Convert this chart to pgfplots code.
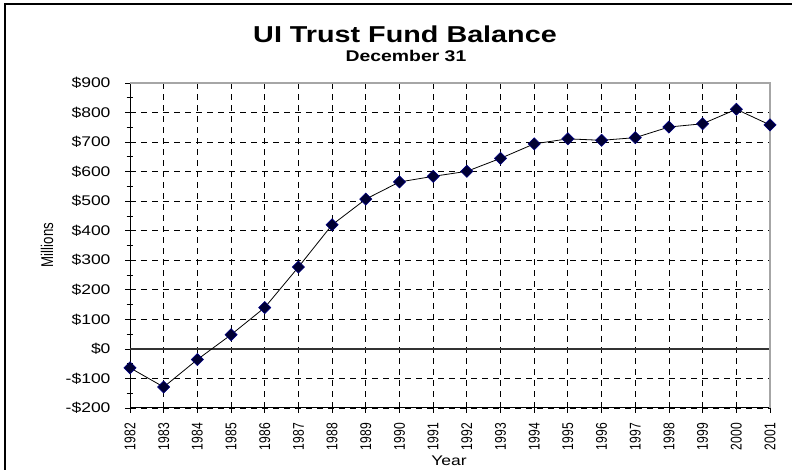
\documentclass[border=0pt]{standalone}
\usepackage{fontspec}
\setmainfont{Liberation Sans}[FakeStretch=1.25]
\newfontfamily\rotfont{Liberation Sans}[FakeStretch=0.78]
\usepackage{pgfplots}
\pgfplotsset{compat=1.18}
\definecolor{mk}{HTML}{000033}
\definecolor{mkedge}{HTML}{000080}
\begin{document}
\begin{tikzpicture}[x=1pt,y=1pt]
\useasboundingbox (0,0) rectangle (792,470);
\draw[line width=1.5pt] (5,-5) -- (5,466) -- (800,466);
\node[anchor=base, font=\fontsize{23}{26}\selectfont\bfseries] at (405,427.7) {UI Trust Fund Balance};
\node[anchor=base, font=\fontsize{15.5}{17}\selectfont\bfseries] at (406,408.3) {December 31};
\node[anchor=base, font=\fontsize{14}{16}\selectfont] at (449,4) {Year};
\node[rotate=90, font=\rotfont\fontsize{17}{19}\selectfont] at (47,225) {Millions};
\begin{axis}[
  at={(130pt,62pt)}, anchor=south west,
  scale only axis, width=640pt, height=325pt,
  xmin=1982, xmax=2001, ymin=-200, ymax=900,
  clip=false,
  axis lines=left,
  axis line style={-, black, line width=1pt},
  xtick={1982,1983,...,2001},
  xticklabels={1982,1983,1984,1985,1986,1987,1988,1989,1990,1991,1992,1993,1994,1995,1996,1997,1998,1999,2000,2001},
  ytick={-200,-100,0,100,200,300,400,500,600,700,800,900},
  yticklabels={-\$200,-\$100,\$0,\$100,\$200,\$300,\$400,\$500,\$600,\$700,\$800,\$900},
  minor y tick num=1,
  tick align=center,
  major tick length=10pt,
  minor tick length=7pt,
  tick style={black, line width=0.8pt},
  xticklabel style={rotate=90, anchor=east, inner sep=2pt, font=\rotfont\fontsize{15.5}{17}\selectfont},
  yticklabel style={font=\fontsize{14}{16}\selectfont},
  xticklabel shift=8pt,
  yticklabel shift=11pt,
  grid=major,
  major grid style={black, line width=0.8pt, dash pattern=on 6pt off 5pt},
]
\addplot[black!80, line width=1.5pt, forget plot] coordinates {(1982,0) (2001,0)};
\addplot[black, line width=0.8pt, mark=square*, mark size=4.3pt,
  mark options={rotate=45, fill=mk, draw=mkedge, line width=0.6pt}] coordinates {
(1982,-64) (1983,-129) (1984,-36) (1985,48) (1986,140) (1987,277)
(1988,420) (1989,507) (1990,565) (1991,584) (1992,601) (1993,645)
(1994,694) (1995,711) (1996,706) (1997,715) (1998,751) (1999,762)
(2000,811) (2001,758)};
\draw[gray!70, line width=1.2pt] (rel axis cs:0,1) -- (rel axis cs:1,1) -- (rel axis cs:1,0);
\end{axis}
\end{tikzpicture}
\end{document}
